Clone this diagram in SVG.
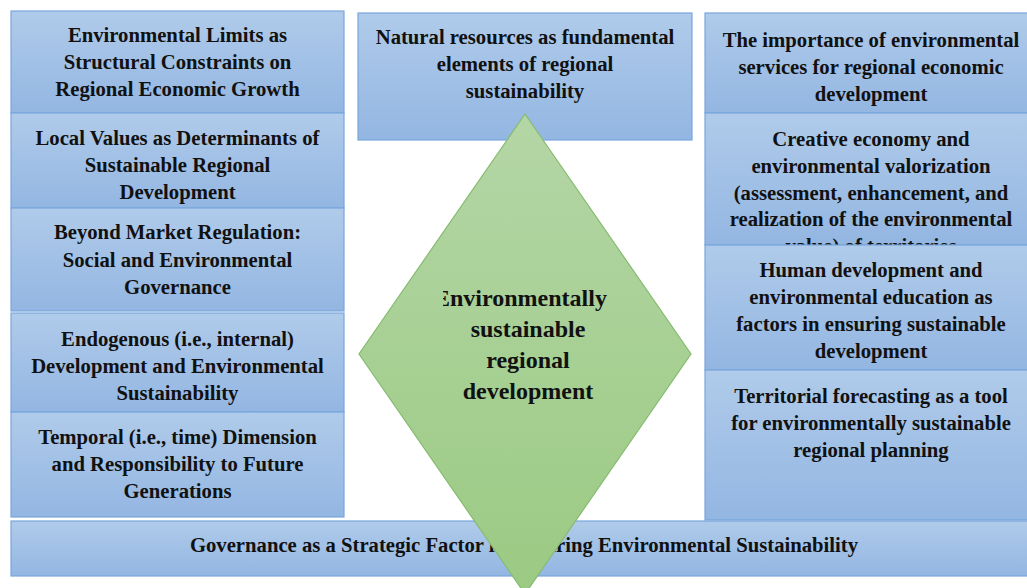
<svg xmlns="http://www.w3.org/2000/svg" width="1027" height="588" viewBox="0 0 1027 588">
<defs>
<linearGradient id="gb" x1="0" y1="0" x2="0" y2="1">
<stop offset="0" stop-color="#b0cbea"/>
<stop offset="1" stop-color="#93b6e2"/>
</linearGradient>
<linearGradient id="gg" x1="0" y1="0" x2="0" y2="1">
<stop offset="0" stop-color="#b4d6a6"/>
<stop offset="1" stop-color="#9bca83"/>
</linearGradient>
<clipPath id="dclip"><rect x="443" y="100" width="300" height="400"/></clipPath>
<style>
.box{fill:url(#gb);stroke:#79a6dc;stroke-width:1.2}
.dia{fill:url(#gg);stroke:#86bb70;stroke-width:1.2}
</style>
</defs>
<rect width="1027" height="588" fill="#ffffff"/>
<g font-family="Liberation Serif" font-weight="700" font-size="20.7" fill="#111" text-anchor="middle">
<g id="left1"><rect class="box" x="11" y="11" width="333" height="102"/>
<text x="177.5" y="42">Environmental Limits as</text>
<text x="177.5" y="69">Structural Constraints on</text>
<text x="177.5" y="96">Regional Economic Growth</text></g>
<g id="left2"><rect class="box" x="11" y="113" width="333" height="95"/>
<text x="177.5" y="145">Local Values as Determinants of</text>
<text x="177.5" y="172">Sustainable Regional</text>
<text x="177.5" y="199">Development</text></g>
<g id="left3"><rect class="box" x="11" y="208" width="333" height="103"/>
<text x="177.5" y="239">Beyond Market Regulation:</text>
<text x="177.5" y="267">Social and Environmental</text>
<text x="177.5" y="294">Governance</text></g>
<g id="left4"><rect class="box" x="11" y="313" width="333" height="99"/>
<text x="177.5" y="346">Endogenous (i.e., internal)</text>
<text x="177.5" y="373">Development and Environmental</text>
<text x="177.5" y="400">Sustainability</text></g>
<g id="left5"><rect class="box" x="11" y="412" width="333" height="105"/>
<text x="177.5" y="444">Temporal (i.e., time) Dimension</text>
<text x="177.5" y="471">and Responsibility to Future</text>
<text x="177.5" y="498">Generations</text></g>
<g id="top"><rect class="box" x="358" y="13" width="334" height="127"/>
<text x="525" y="44">Natural resources as fundamental</text>
<text x="525" y="71">elements of regional</text>
<text x="525" y="98">sustainability</text></g>
<g id="right1"><rect class="box" x="705" y="13" width="330" height="100"/>
<text x="871" y="47">The importance of environmental</text>
<text x="871" y="74">services for regional economic</text>
<text x="871" y="101">development</text></g>
<g id="right2"><rect class="box" x="705" y="113" width="330" height="132"/>
<text x="871" y="146">Creative economy and</text>
<text x="871" y="173">environmental valorization</text>
<text x="871" y="200">(assessment, enhancement, and</text>
<text x="871" y="226">realization of the environmental</text>
<text x="871" y="253">value) of territories</text></g>
<g id="right3"><rect class="box" x="705" y="245" width="330" height="125"/>
<text x="871" y="277">Human development and</text>
<text x="871" y="304">environmental education as</text>
<text x="871" y="331">factors in ensuring sustainable</text>
<text x="871" y="358">development</text></g>
<g id="right4"><rect class="box" x="705" y="370" width="330" height="150"/>
<text x="871" y="403">Territorial forecasting as a tool</text>
<text x="871" y="430">for environmentally sustainable</text>
<text x="871" y="457">regional planning</text></g>
<g id="bottom"><rect class="box" x="11" y="521" width="1026" height="55"/>
<text x="524" y="552">Governance as a Strategic Factor in Ensuring Environmental Sustainability</text></g>
<g id="center" font-size="24"><polygon class="dia" points="525,114 691,354 525,594 359,354"/>
<g clip-path="url(#dclip)"><text x="434" y="306" text-anchor="start">Environmentally</text></g>
<text x="528" y="337">sustainable</text>
<text x="528" y="368">regional</text>
<text x="528" y="399">development</text></g>
</g>
<g id="connectors"></g>
</svg>
